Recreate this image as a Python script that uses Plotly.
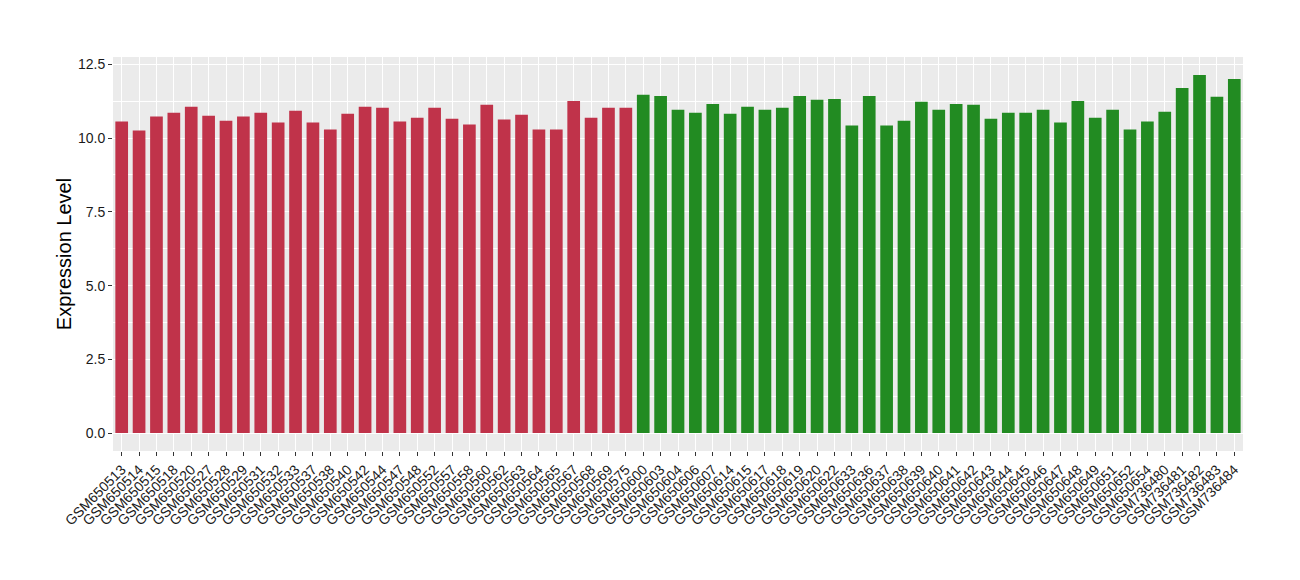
import plotly.graph_objects as go

samples_a = ["GSM650513","GSM650514","GSM650515","GSM650518","GSM650520","GSM650527","GSM650528",
             "GSM650529","GSM650531","GSM650532","GSM650533","GSM650537","GSM650538","GSM650540",
             "GSM650542","GSM650544","GSM650547","GSM650548","GSM650552","GSM650557","GSM650558",
             "GSM650560","GSM650562","GSM650563","GSM650564","GSM650565","GSM650567","GSM650568",
             "GSM650569","GSM650575"]
values_a = [10.56, 10.26, 10.73, 10.86, 11.06, 10.76, 10.59, 10.73, 10.86, 10.53, 10.93, 10.53,
            10.29, 10.83, 11.06, 11.03, 10.56, 10.69, 11.03, 10.66, 10.46, 11.13, 10.63, 10.79,
            10.29, 10.29, 11.26, 10.69, 11.03, 11.03]

samples_b = ["GSM650600","GSM650603","GSM650604","GSM650606","GSM650607","GSM650614","GSM650615",
             "GSM650617","GSM650618","GSM650619","GSM650620","GSM650622","GSM650633","GSM650636",
             "GSM650637","GSM650638","GSM650639","GSM650640","GSM650641","GSM650642","GSM650643",
             "GSM650644","GSM650645","GSM650646","GSM650647","GSM650648","GSM650649","GSM650651",
             "GSM650652","GSM650654","GSM736480","GSM736481","GSM736482","GSM736483","GSM736484"]
values_b = [11.47, 11.43, 10.96, 10.86, 11.16, 10.83, 11.06, 10.96, 11.03, 11.43, 11.30, 11.33,
            10.43, 11.43, 10.43, 10.59, 11.23, 10.96, 11.16, 11.13, 10.66, 10.86, 10.86, 10.96,
            10.53, 11.26, 10.69, 10.96, 10.29, 10.56, 10.89, 11.70, 12.14, 11.40, 12.00]

color_a = "#C0334A"
color_b = "#228B22"

fig = go.Figure()
fig.add_trace(go.Bar(x=samples_a, y=values_a, marker=dict(color=color_a, line=dict(width=0)),
                     showlegend=False))
fig.add_trace(go.Bar(x=samples_b, y=values_b, marker=dict(color=color_b, line=dict(width=0)),
                     showlegend=False))

fig.update_layout(
    width=1292, height=572,
    margin=dict(l=105, r=57, t=49, b=129),
    paper_bgcolor="white",
    plot_bgcolor="#EBEBEB",
    bargap=0.27,
    font=dict(family="Liberation Sans, Arial, sans-serif", color="#1a1a1a"),
    xaxis=dict(
        categoryorder="array", categoryarray=samples_a + samples_b,
        tickangle=-45, tickfont=dict(size=14, color="#1a1a1a"),
        showgrid=True, gridcolor="white", gridwidth=1.2,
        ticks="outside", ticklen=4, tickcolor="#333333", tickwidth=1,
        showline=False, zeroline=False, automargin=False,
    ),
    yaxis=dict(
        range=[-0.607, 12.75],
        tickvals=[0, 2.5, 5, 7.5, 10, 12.5],
        ticktext=["0.0", "2.5", "5.0", "7.5", "10.0", "12.5"],
        tickfont=dict(size=14, color="#1a1a1a"),
        showgrid=True, gridcolor="white", gridwidth=1.2,
        minor=dict(tickvals=[1.25, 3.75, 6.25, 8.75, 11.25], showgrid=True,
                   gridcolor="white", gridwidth=0.6, ticks=""),
        ticks="outside", ticklen=4, tickcolor="#333333", tickwidth=1,
        zeroline=False, showline=False, automargin=False,
        title=dict(text="Expression Level", font=dict(size=20, color="black"), standoff=0),
    ),
)

fig.write_html("out.html")
